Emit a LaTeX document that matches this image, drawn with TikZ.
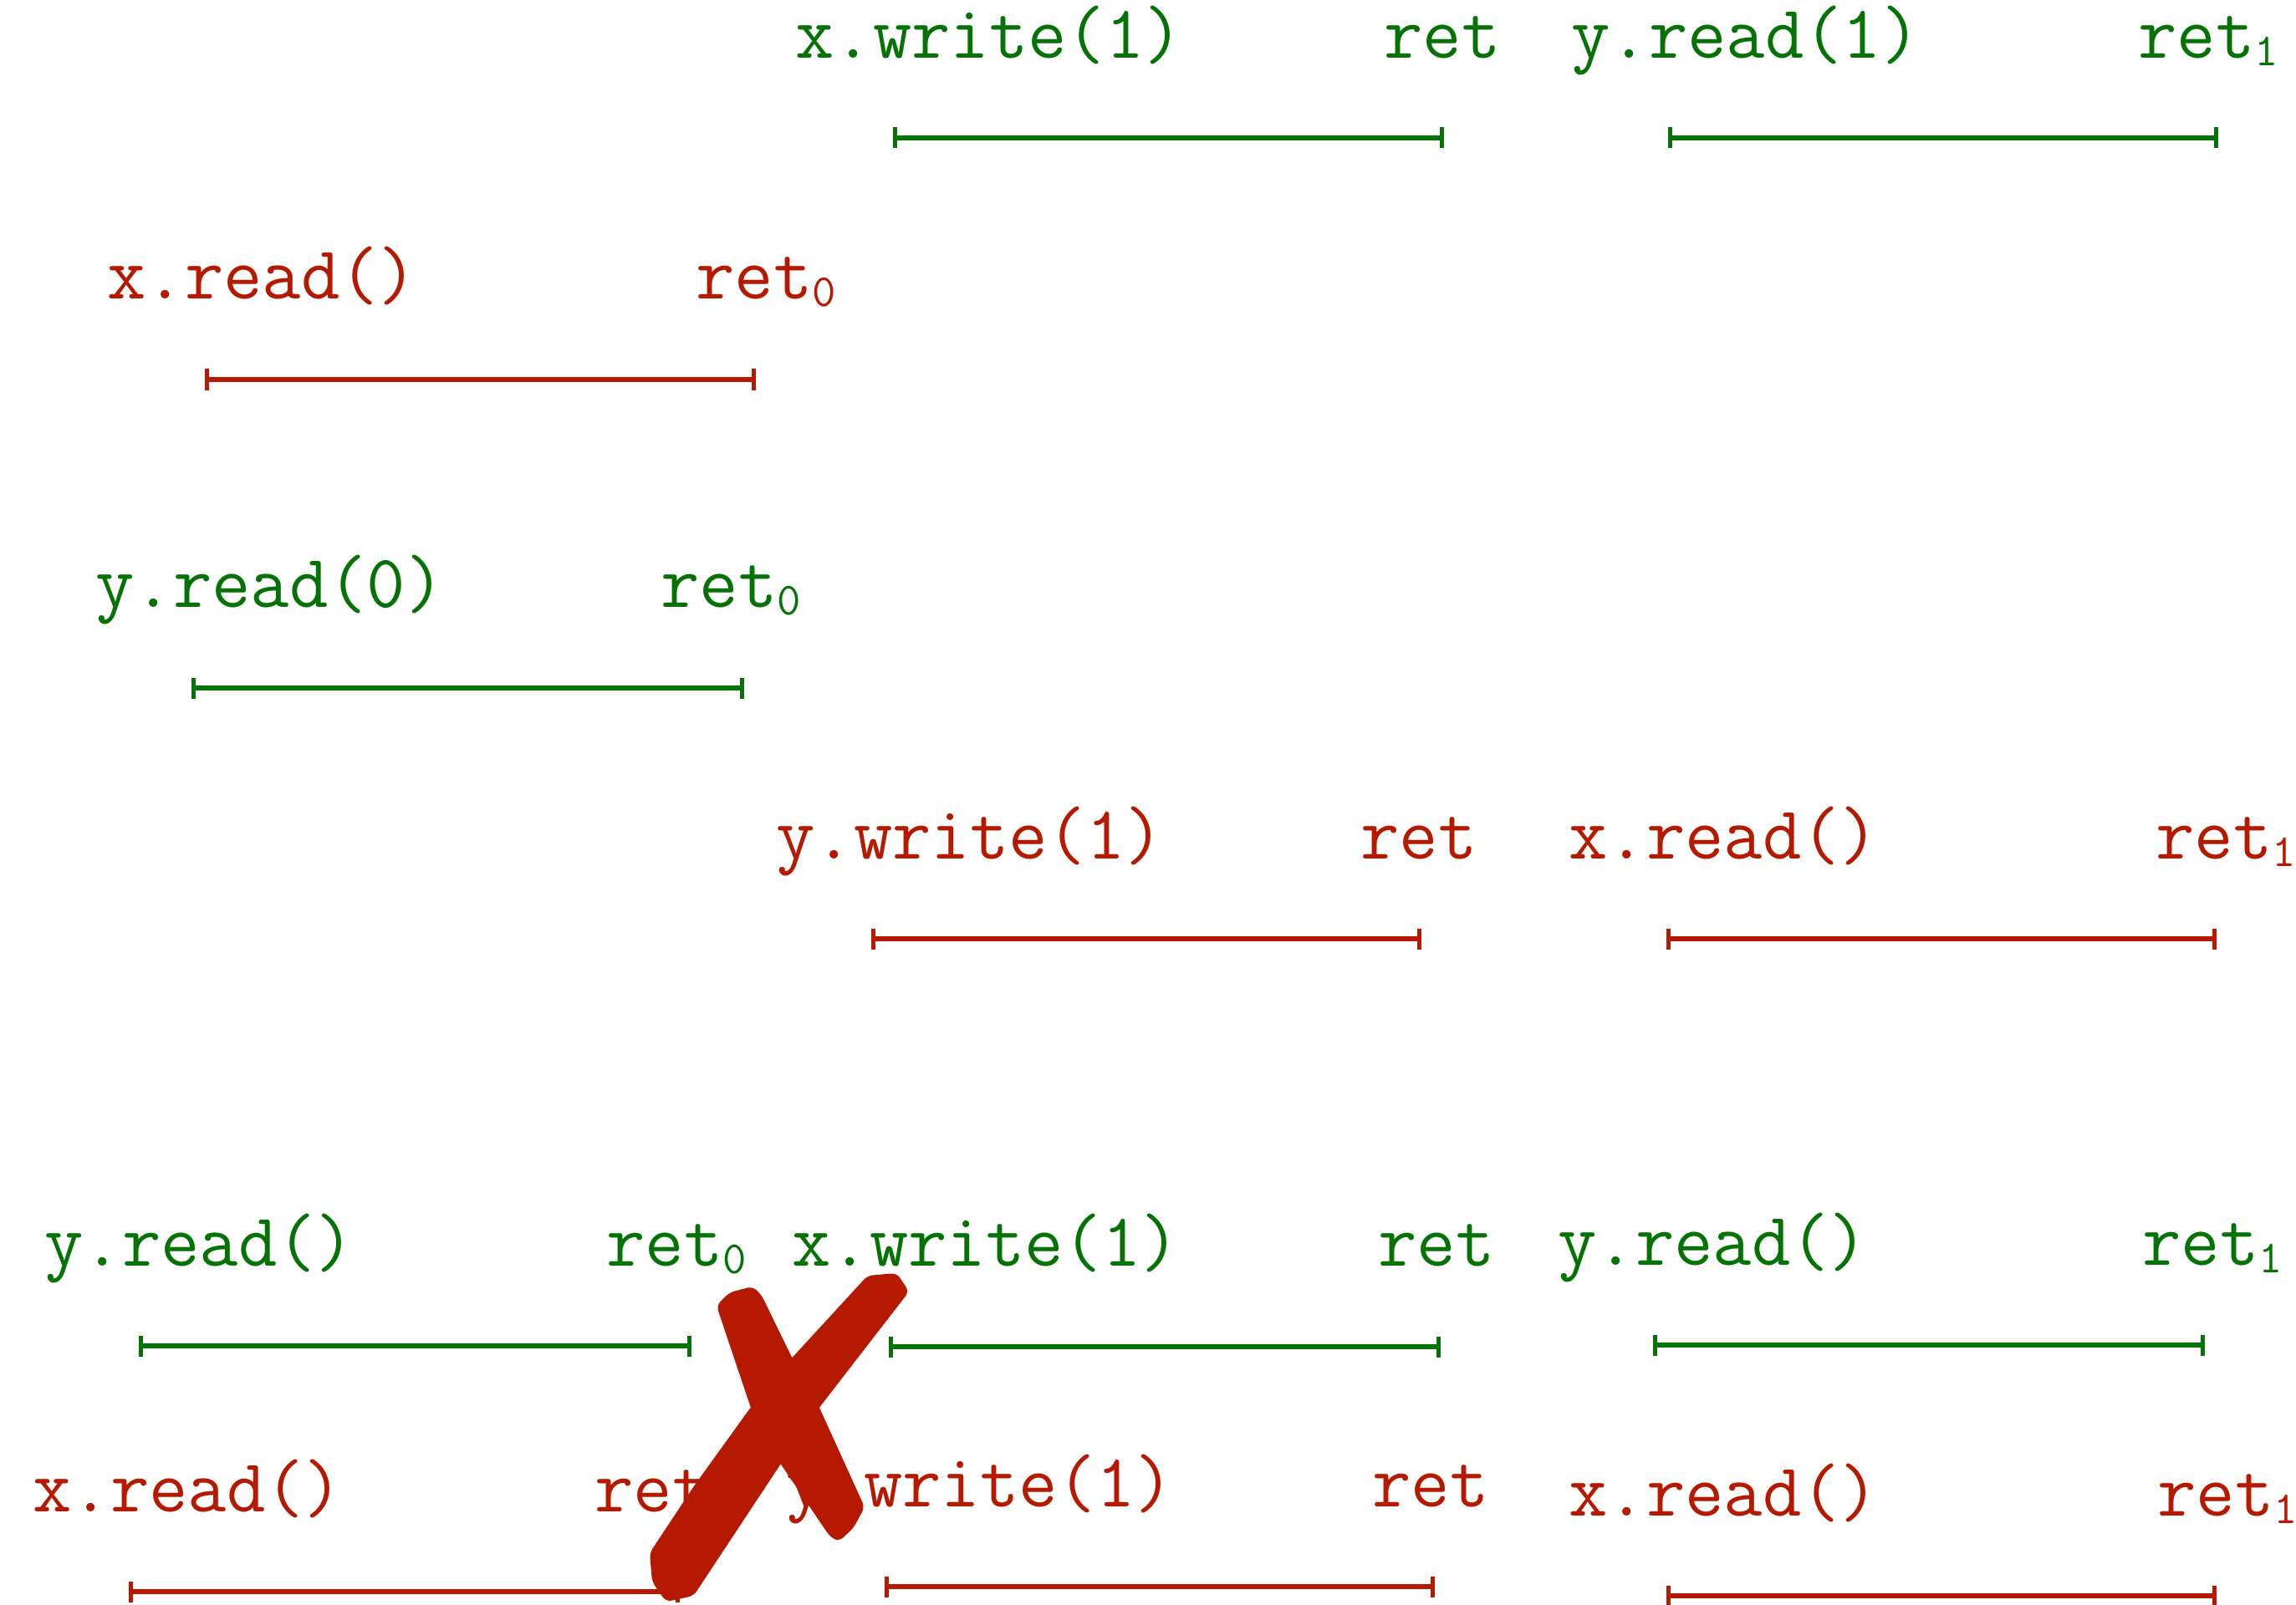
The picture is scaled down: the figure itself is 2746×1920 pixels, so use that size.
\documentclass[tikz,border=0pt]{standalone}
\usepackage{fontspec}
\usetikzlibrary{arrows.meta}
\definecolor{gr}{RGB}{4,114,4}
\definecolor{rd}{RGB}{181,25,0}
\newcommand{\retsub}[1]{\raisebox{-4.5pt}{\fontsize{27.5}{27.5}\selectfont #1}}
\begin{document}
\begin{tikzpicture}[x=0.5pt,y=-0.5pt,
  lbl/.style={anchor=base west, inner sep=0pt, font=\fontsize{45}{47}\selectfont\ttfamily},
  iv/.style={line width=2.6pt, {Bar[width=12.5pt,line width=2.6pt]}-{Bar[width=12.5pt,line width=2.6pt]}},
  xmark/.style={fill=rd, draw=rd, line width=1pt, rounded corners=3pt},
]
\useasboundingbox (0,0) rectangle (2746,1920);

% Row 1 (green)
\node[lbl, text=gr] (r1a) at (951,70) {x.write(1)};
\node[lbl, text=gr] (r1ar) at (1655,70) {ret};
\coordinate (r1as) at (1068,165); \coordinate (r1ae) at (1727,165);
\draw[iv, gr] (r1as) -- (r1ae);
\node[lbl, text=gr] (r1b) at (1879,70) {y.read(1)};
\node[lbl, text=gr] (r1br) at (2557,70) {ret\retsub{1}};
\coordinate (r1bs) at (1995,165); \coordinate (r1be) at (2653,165);
\draw[iv, gr] (r1bs) -- (r1be);

% Row 2 (red)
\node[lbl, text=rd] (r2a) at (128,358) {x.read()};
\node[lbl, text=rd] (r2ar) at (832,358) {ret\retsub{0}};
\coordinate (r2as) at (245,454); \coordinate (r2ae) at (904,454);
\draw[iv, rd] (r2as) -- (r2ae);

% Row 3 (green)
\node[lbl, text=gr] (r3a) at (114,726) {y.read(0)};
\node[lbl, text=gr] (r3ar) at (790,726) {ret\retsub{0}};
\coordinate (r3as) at (229,823); \coordinate (r3ae) at (890,823);
\draw[iv, gr] (r3as) -- (r3ae);

% Row 4 (red)
\node[lbl, text=rd] (r4a) at (928,1027) {y.write(1)};
\node[lbl, text=rd] (r4ar) at (1627,1027) {ret};
\coordinate (r4as) at (1042,1123); \coordinate (r4ae) at (1700,1123);
\draw[iv, rd] (r4as) -- (r4ae);
\node[lbl, text=rd] (r4b) at (1876,1027) {x.read()};
\node[lbl, text=rd] (r4br) at (2578,1027) {ret\retsub{1}};
\coordinate (r4bs) at (1993,1123); \coordinate (r4be) at (2651,1123);
\draw[iv, rd] (r4bs) -- (r4be);

% Row 5 (green)
\node[lbl, text=gr] (r5a) at (53,1514) {y.read()};
\node[lbl, text=gr] (r5ar) at (725,1514) {ret\retsub{0}};
\coordinate (r5as) at (166,1610); \coordinate (r5ae) at (827,1610);
\draw[iv, gr] (r5as) -- (r5ae);
\node[lbl, text=gr] (r5b) at (947,1514) {x.write(1)};
\node[lbl, text=gr] (r5br) at (1648,1514) {ret};
\coordinate (r5bs) at (1063,1611); \coordinate (r5be) at (1723,1611);
\draw[iv, gr] (r5bs) -- (r5be);
\node[lbl, text=gr] (r5c) at (1863,1513) {y.read()};
\node[lbl, text=gr] (r5cr) at (2562,1513) {ret\retsub{1}};
\coordinate (r5cs) at (1977,1609); \coordinate (r5ce) at (2637,1609);
\draw[iv, gr] (r5cs) -- (r5ce);

% Row 6 (red)
\node[lbl, text=rd] (r6a) at (39,1808) {x.read()};
\node[lbl, text=rd] (r6ar) at (711,1808) {ret\retsub{0}};
\coordinate (r6as) at (154,1904); \coordinate (r6ae) at (813,1904);
\draw[iv, rd] (r6as) -- (r6ae);
\node[lbl, text=rd] (r6b) at (940,1802) {y.write(1)};
\node[lbl, text=rd] (r6br) at (1641,1802) {ret};
\coordinate (r6bs) at (1058,1898); \coordinate (r6be) at (1716,1898);
\draw[iv, rd] (r6bs) -- (r6be);
\node[lbl, text=rd] (r6c) at (1876,1813) {x.read()};
\node[lbl, text=rd] (r6cr) at (2580,1813) {ret\retsub{1}};
\coordinate (r6cs) at (1993,1909); \coordinate (r6ce) at (2651,1909);
\draw[iv, rd] (r6cs) -- (r6ce);

% Cross mark
\path[xmark] (858,1562) -- (873,1547) -- (900,1540) -- (910,1550)
  -- (948,1628) -- (978,1682) -- (1033,1803) -- (1020,1827) -- (1003,1843)
  -- (993,1837) -- (932,1747) -- (900,1687) -- cycle;
\path[xmark] (1038,1527) -- (1072,1524) -- (1086,1545) -- (980,1682)
  -- (934,1749) -- (829,1908) -- (797,1915) -- (781,1892) -- (778,1858)
  -- (831,1778) -- (898,1685) -- (948,1625) -- cycle;
\end{tikzpicture}
\end{document}
